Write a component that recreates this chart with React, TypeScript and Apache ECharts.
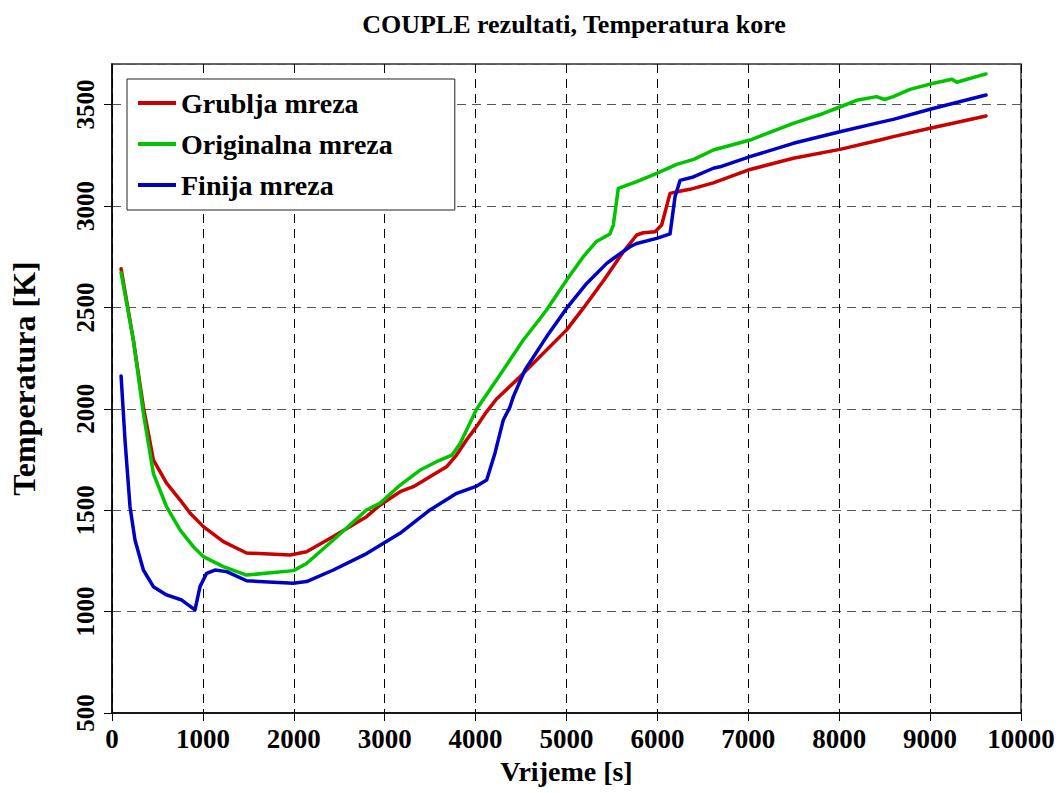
import React, { useEffect, useRef } from "react";
import * as echarts from "echarts";

const titleText = "COUPLE rezultati, Temperatura kore";
const xName = "Vrijeme [s]";
const yName = "Temperatura [K]";
const seriesNames = ["Grublja mreza", "Originalna mreza", "Finija mreza"];
const seriesColors = ["#C80000", "#00C400", "#0000C4"];

const grubljaMreza: [number, number][] = [
  [100, 2690], [235, 2339], [345, 2010], [455, 1748], [600, 1633], [750, 1550],
  [860, 1485], [1005, 1419], [1225, 1345], [1480, 1289], [1960, 1279], [2140, 1295],
  [2435, 1370], [2800, 1468], [2950, 1526], [3170, 1591], [3315, 1616], [3680, 1714],
  [3790, 1772], [3900, 1846], [4010, 1912], [4120, 1985], [4230, 2048], [4470, 2150],
  [4525, 2175], [5002, 2389], [5185, 2496], [5420, 2640], [5625, 2774], [5772, 2857],
  [5845, 2868], [5974, 2873], [6047, 2906], [6139, 3062], [6230, 3071], [6359, 3082],
  [6615, 3114], [7019, 3180], [7495, 3235], [8008, 3279], [8448, 3325], [8595, 3342],
  [8999, 3383], [9615, 3444],
];

const originalnaMreza: [number, number][] = [
  [100, 2671], [235, 2339], [345, 1978], [455, 1682], [600, 1517], [750, 1402],
  [895, 1320], [1005, 1271], [1225, 1222], [1480, 1180], [1995, 1202], [2140, 1237],
  [2435, 1353], [2800, 1501], [2950, 1535], [3170, 1624], [3390, 1698], [3570, 1739],
  [3740, 1772], [3830, 1829], [4010, 1998], [4230, 2142], [4525, 2339], [4710, 2445],
  [4780, 2487], [5002, 2635], [5040, 2660], [5185, 2750], [5330, 2825], [5478, 2862],
  [5515, 2906], [5570, 3087], [5772, 3120], [5992, 3161], [6212, 3205], [6400, 3230],
  [6615, 3276], [7019, 3325], [7495, 3407], [7825, 3456], [8008, 3488], [8191, 3521],
  [8410, 3539], [8500, 3525], [8595, 3539], [8779, 3575], [9000, 3601], [9240, 3625],
  [9293, 3610], [9615, 3651],
];

const finijaMreza: [number, number][] = [
  [100, 2162], [143, 1846], [198, 1517], [253, 1353], [345, 1205], [455, 1123],
  [600, 1082], [767, 1057], [913, 1008], [968, 1123], [1041, 1189], [1133, 1205],
  [1261, 1197], [1481, 1152], [1995, 1140], [2141, 1148], [2435, 1205], [2801, 1286],
  [3168, 1386], [3498, 1501], [3792, 1583], [4012, 1619], [4122, 1649], [4213, 1781],
  [4305, 1945], [4378, 2009], [4415, 2060], [4543, 2191], [4782, 2356], [5002, 2496],
  [5222, 2618], [5442, 2717], [5515, 2741], [5699, 2799], [5772, 2815], [5992, 2840],
  [6139, 2862], [6194, 3045], [6249, 3126], [6395, 3143], [6615, 3186], [6689, 3193],
  [7019, 3243], [7495, 3309], [8008, 3366], [8448, 3412], [8595, 3427], [8999, 3477],
  [9615, 3547],
];

const allSeries = [grubljaMreza, originalnaMreza, finijaMreza];

const FONT = "'Liberation Serif', 'Times New Roman', serif";

export default function App() {
  const ref = useRef<HTMLDivElement>(null);
  useEffect(() => {
    if (!ref.current) return;
    const chart = echarts.init(ref.current, undefined, { renderer: "svg" });
    chart.setOption({
      animation: false,
      backgroundColor: "#ffffff",
      title: {
        text: titleText,
        left: 569,
        textAlign: "center",
        top: 6,
        textStyle: { fontFamily: FONT, fontWeight: "bold", fontSize: 26, color: "#000" },
      },
      legend: {
        orient: "vertical",
        left: 127,
        top: 79,
        padding: [10, 62, 11, 11],
        itemGap: 13,
        itemWidth: 38,
        itemHeight: 4,
        icon: "rect",
        backgroundColor: "#ffffff",
        borderColor: "#222",
        borderWidth: 1,
        borderRadius: 0,
        textStyle: { fontFamily: FONT, fontWeight: "bold", fontSize: 28, color: "#000" },
        data: seriesNames,
      },
      grid: {
        left: 112,
        right: 40,
        top: 64,
        bottom: 80,
        show: true,
        borderColor: "#333",
        borderWidth: 1.5,
        containLabel: false,
      },
      xAxis: {
        type: "value",
        min: 0,
        max: 10000,
        interval: 1000,
        name: xName,
        nameLocation: "middle",
        nameGap: 44,
        nameTextStyle: { fontFamily: FONT, fontWeight: "bold", fontSize: 28, color: "#000" },
        axisLine: { show: true, lineStyle: { color: "#000", width: 1.5 } },
        axisTick: { show: true, inside: false, length: 8, lineStyle: { color: "#000" } },
        axisLabel: {
          fontFamily: FONT,
          fontWeight: "bold",
          fontSize: 27,
          color: "#000",
          margin: 12,
          formatter: (v: number) => String(v),
        },
        splitLine: { show: true, lineStyle: { color: "#000", type: [9, 6], width: 1 } },
      },
      yAxis: {
        type: "value",
        min: 500,
        max: 3700,
        interval: 500,
        name: yName,
        nameLocation: "middle",
        nameGap: 72,
        nameRotate: 90,
        nameTextStyle: { fontFamily: FONT, fontWeight: "bold", fontSize: 32, color: "#000", padding: [0, 0, 0, 20] },
        axisLine: { show: true, lineStyle: { color: "#000", width: 1.5 } },
        axisTick: { show: true, inside: false, length: 8, lineStyle: { color: "#000" } },
        axisLabel: {
          fontFamily: FONT,
          fontWeight: "bold",
          fontSize: 25,
          color: "#000",
          rotate: 90,
          margin: 14,
          showMaxLabel: false,
          formatter: (v: number) => String(v),
        },
        splitLine: { show: true, lineStyle: { color: "#555", type: [9, 6], width: 1 } },
      },
      series: allSeries.map((d, i) => ({
        name: seriesNames[i],
        type: "line",
        data: d,
        symbol: "none",
        smooth: false,
        lineStyle: { color: seriesColors[i], width: 3.5, join: "round", cap: "round" },
        itemStyle: { color: seriesColors[i] },
      })),
    });
    return () => chart.dispose();
  }, []);
  return <div ref={ref} style={{ width: 1061, height: 793, position: "absolute", left: 0, top: 0 }} />;
}
